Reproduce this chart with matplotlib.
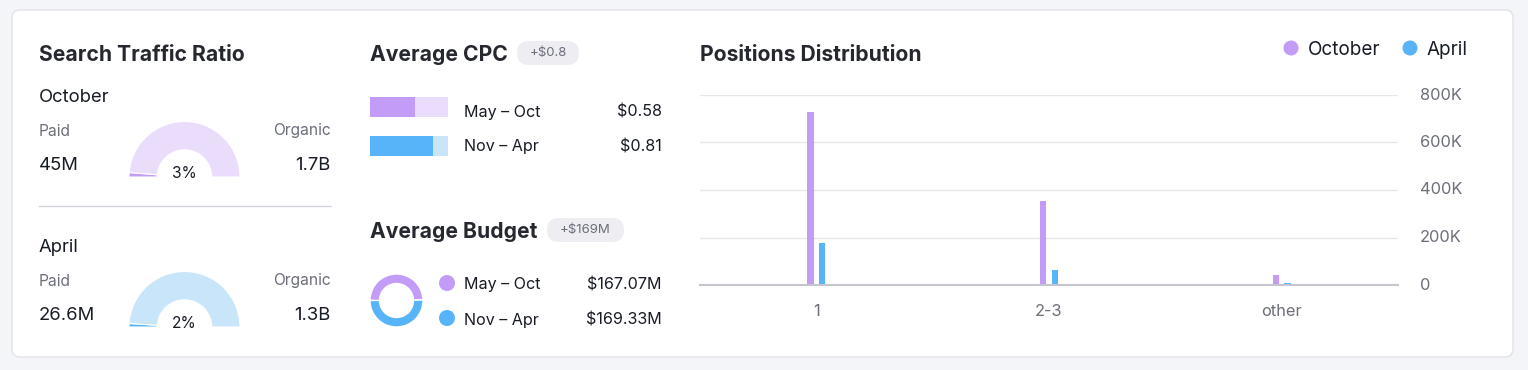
import matplotlib
matplotlib.use("Agg")
import matplotlib.pyplot as plt
from matplotlib.patches import FancyBboxPatch, Circle
import numpy as np

plt.rcParams['font.family'] = ['Inter', 'DejaVu Sans']

# --- data ---
traffic_months = ['October', 'April']
paid_traffic = [45e6, 26.6e6]
organic_traffic = [1.7e9, 1.3e9]
paid_labels = ['45M', '26.6M']
organic_labels = ['1.7B', '1.3B']

cpc_periods = ['May – Oct', 'Nov – Apr']
cpc_values = [0.58, 0.81]
cpc_badge = '+$0.8'

budget_periods = ['May – Oct', 'Nov – Apr']
budget_values = [167.07, 169.33]  # $M
budget_badge = '+$169M'

pos_categories = ['1', '2-3', 'other']
pos_october = [728000, 354000, 42000]
pos_april = [177000, 63000, 7000]
pos_ticks = [0, 200000, 400000, 600000, 800000]
pos_tick_labels = ['0', '200K', '400K', '600K', '800K']

# --- colours ---
BG = '#F4F5F9'
PURPLE = '#C29CF7'
PURPLE_LT = '#EADDFB'
BLUE = '#57B4F9'
BLUE_LT = '#C9E5FA'
DARK = '#181C25'
GRAY = '#6C6E79'
TITLE = '#26282F'

W, H = 1528, 370
fig = plt.figure(figsize=(W / 100, H / 100), dpi=100)
fig.patch.set_facecolor(BG)


def px_axes(x0, y0, x1, y1):
    return fig.add_axes([x0 / W, 1 - y1 / H, (x1 - x0) / W, (y1 - y0) / H])


# overlay in pixel coords
ax = fig.add_axes([0, 0, 1, 1])
ax.set_xlim(0, W)
ax.set_ylim(H, 0)
ax.axis('off')

card = FancyBboxPatch((12, 10), 1501, 347, boxstyle='round,pad=0,rounding_size=8',
                      facecolor='white', edgecolor='#E2E3E8', linewidth=1)
ax.add_patch(card)

TSIZE = 15.2
DY = 2  # text nudge so centres sit like the reference


def txt(x, y, s, **kw):
    kw.setdefault('va', 'center')
    ax.text(x, y + DY, s, **kw)


# --- Search Traffic Ratio ---
txt(39, 53, 'Search Traffic Ratio', fontsize=TSIZE, fontweight='bold', color=TITLE)
ax.plot([39, 331], [206, 206], color='#D3D5DD', lw=1)

for i, month in enumerate(traffic_months):
    dy = i * 150
    txt(39, 96 + dy, month, fontsize=13.3, color=DARK)
    txt(39, 129 + dy, 'Paid', fontsize=11.2, color=GRAY)
    txt(331, 129 + dy, 'Organic', fontsize=11.2, color=GRAY, ha='right')
    txt(39, 163 + dy, paid_labels[i], fontsize=13.3, color=DARK)
    txt(331, 163 + dy, organic_labels[i], fontsize=13.3, color=DARK, ha='right')

    paid, org = paid_traffic[i], organic_traffic[i]
    dark, light = (PURPLE, PURPLE_LT) if i == 0 else (BLUE, BLUE_LT)
    cx, cy, r = 184.5, 177 + dy, 55.5
    pa = px_axes(cx - r, cy - r, cx + r, cy + r)
    wedges, _ = pa.pie([paid, org, paid + org], colors=[dark, light, 'none'], startangle=180,
                       counterclock=False, radius=1,
                       wedgeprops=dict(width=0.51, edgecolor='white', linewidth=0.8))
    wedges[2].set_edgecolor('none')
    pa.set_xlim(-1, 1)
    pa.set_ylim(-1, 1)
    pct = paid / (paid + org) * 100
    txt(cx, cy - 6, f'{pct:.0f}%', fontsize=11.2, color=DARK, ha='center')


def badge(x, y, w, text):
    p = FancyBboxPatch((x, y - 12), w, 24, boxstyle='round,pad=0,rounding_size=12',
                       facecolor='#EDEDF2', edgecolor='none')
    ax.add_patch(p)
    ax.text(x + w / 2, y, text, fontsize=9.5, color=GRAY, ha='center', va='center')


# --- Average CPC ---
txt(370, 53, 'Average CPC', fontsize=TSIZE, fontweight='bold', color=TITLE)
badge(517, 53, 62, cpc_badge)

ca = px_axes(370, 87.5, 448, 166)
yy = np.arange(len(cpc_values))
ca.barh(yy, [1.0] * len(cpc_values), height=0.51, color=[PURPLE_LT, BLUE_LT])
ca.barh(yy, cpc_values, height=0.51, color=[PURPLE, BLUE])
ca.set_xlim(0, 1)
ca.set_ylim(1.5, -0.5)
ca.axis('off')
for i, v in enumerate(cpc_values):
    y = 110 + i * 35
    txt(464, y, cpc_periods[i], fontsize=11.6, color=DARK)
    txt(662, y, f'${v:.2f}', fontsize=11.6, color=DARK, ha='right')

# --- Average Budget ---
txt(370, 230, 'Average Budget', fontsize=TSIZE, fontweight='bold', color=TITLE)
badge(547, 230, 77, budget_badge)

bcx, bcy, br = 396.5, 300.5, 26.5
ba = px_axes(bcx - br, bcy - br, bcx + br, bcy + br)
ba.pie(budget_values, colors=[PURPLE, BLUE], startangle=180, counterclock=False, radius=1,
       wedgeprops=dict(width=0.36, edgecolor='white', linewidth=1))
ba.set_xlim(-1, 1)
ba.set_ylim(-1, 1)
for i, v in enumerate(budget_values):
    y = 283 + i * 35
    ax.add_patch(Circle((447, y), 8, color=[PURPLE, BLUE][i], lw=0))
    txt(464, y, budget_periods[i], fontsize=11.6, color=DARK)
    txt(662, y, f'${v:.2f}M', fontsize=11.6, color=DARK, ha='right')

# --- Positions Distribution ---
txt(700, 53, 'Positions Distribution', fontsize=TSIZE, fontweight='bold', color=TITLE)
for lx, lab, col in [(1291, 'October', PURPLE), (1410, 'April', BLUE)]:
    ax.add_patch(Circle((lx, 48), 7.5, color=col, lw=0))
    txt(lx + 17, 48, lab, fontsize=13.6, color=DARK)

pd_ax = px_axes(700, 95, 1398, 285)
x = np.arange(len(pos_categories))
w = 0.027
pd_ax.bar(x - w * 0.95, pos_october, width=w, color=PURPLE, zorder=3)
pd_ax.bar(x + w * 0.95, pos_april, width=w, color=BLUE, zorder=3)
pd_ax.set_xlim(-0.5, len(pos_categories) - 0.5)
pd_ax.set_ylim(0, 800000)
pd_ax.set_yticks(pos_ticks)
pd_ax.set_yticklabels(pos_tick_labels)
pd_ax.set_xticks(x)
pd_ax.set_xticklabels(pos_categories)
pd_ax.yaxis.tick_right()
pd_ax.tick_params(axis='y', length=0, pad=16, labelsize=11.8, labelcolor=GRAY)
pd_ax.tick_params(axis='x', length=0, pad=14, labelsize=11.8, labelcolor=GRAY)
for lab in pd_ax.get_yticklabels():
    lab.set_verticalalignment('center')
pd_ax.grid(axis='y', color='#E6E7EB', lw=1, zorder=0)
pd_ax.set_facecolor('none')
for s in ['top', 'left', 'right']:
    pd_ax.spines[s].set_visible(False)
pd_ax.spines['bottom'].set_color('#C4C6CD')
pd_ax.spines['bottom'].set_linewidth(1.5)
pd_ax.spines['bottom'].set_zorder(4)

fig.savefig('out.png', dpi=100, facecolor=BG)
